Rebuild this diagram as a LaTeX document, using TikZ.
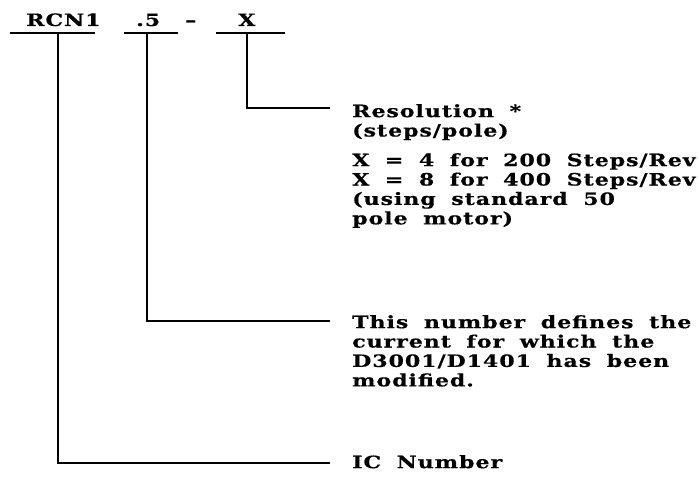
\documentclass[tikz,border=0pt]{standalone}
\usepackage{fontspec}
\newfontfamily\lblfont{DejaVu Serif}[FakeStretch=1.3, LetterSpace=5.5, WordSpace=1.8, FakeBold=0.5]
\begin{document}
\begin{tikzpicture}[x=1pt,y=-1pt,
  lbl/.style={inner sep=0pt, font=\lblfont\bfseries\fontsize{17}{19.4}\selectfont},
  blk/.style={lbl, align=left, anchor=north west},
  ln/.style={line width=2.2pt}]
\useasboundingbox (0,0) rectangle (698,494);
% top code
\node[lbl, anchor=base west] (rcn) at (26,26) {RCN1};
\node[lbl, anchor=base west] (five) at (136,26) {.5};
\node[lbl, anchor=base west] (dash) at (185,26) {–};
\node[lbl, anchor=base west] (xx) at (238,26) {X};
% underlines
\coordinate (u1a) at (10,33); \coordinate (u1b) at (95,33);
\coordinate (u2a) at (124,33); \coordinate (u2b) at (178,33);
\coordinate (u3a) at (216,33); \coordinate (u3b) at (285,33);
\draw[ln] (u1a) -- (u1b);
\draw[ln] (u2a) -- (u2b);
\draw[ln] (u3a) -- (u3b);
% stems
\coordinate (s1) at (58,33); \coordinate (s2) at (147,33); \coordinate (s3) at (247,33);
% labels
\node[blk] (resol) at (352,104) {Resolution *\\(steps/pole)};
\node[blk] (xval) at (352,153) {X = 4 for 200 Steps/Rev\\X = 8 for 400 Steps/Rev\\(using standard 50\\pole motor)};
\node[blk] (curr) at (352,315) {This number defines the\\current for which the\\D3001/D1401 has been\\modified.};
\node[blk] (ic) at (352,455) {IC Number};
% end points of leaders
\coordinate (e3) at (330,108); \coordinate (e2) at (330,321); \coordinate (e1) at (330,463);
\draw[ln] (s3) |- (e3);
\draw[ln] (s2) |- (e2);
\draw[ln] (s1) |- (e1);
\end{tikzpicture}
\end{document}
